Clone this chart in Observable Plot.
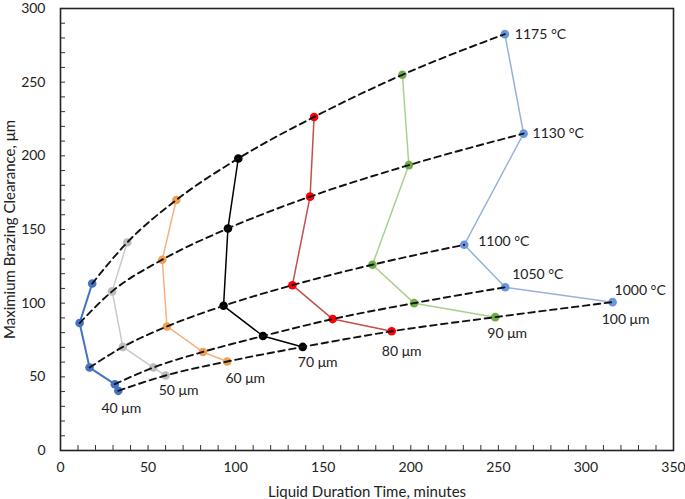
<!DOCTYPE html>
<html>
<head>
<meta charset="utf-8">
<script src="https://cdn.jsdelivr.net/npm/d3@7"></script>
<script src="https://cdn.jsdelivr.net/npm/@observablehq/plot@0.6"></script>
<style>
  html, body { margin: 0; padding: 0; background: #fff; }
  #chart { width: 685px; height: 499px; }
  #chart g[aria-label="x-axis label"] text, #chart g[aria-label="y-axis label"] text { font-size: 15px; }
</style>
</head>
<body>
<div id="chart"></div>
<script>
// ---- data ----
const clearances = ["40 μm", "50 μm", "60 μm", "70 μm", "80 μm", "90 μm", "100 μm"];
const temperatures = ["1175 °C", "1130 °C", "1100 °C", "1050 °C", "1000 °C"];
// liquid duration time (minutes), one array per clearance, in temperature order
const time40  = [18.1, 10.9, 16.6, 31.0, 33.0];
const time50  = [38.1, 29.5, 35.6, 53.0, 60.0];
const time60  = [66.1, 58.1, 60.8, 81.3, 95.2];
const time70  = [101.5, 95.6, 93.1, 115.6, 138.3];
const time80  = [144.8, 142.5, 132.4, 155.4, 189.1];
const time90  = [195.2, 198.9, 178.1, 201.9, 248.2];
const time100 = [253.7, 264.4, 230.5, 253.9, 315.2];
// maximum brazing clearance (µm)
const gap40  = [113.3, 86.5, 56.3, 45.0, 40.5];
const gap50  = [141.2, 108.0, 70.3, 56.3, 50.9];
const gap60  = [170.0, 129.5, 84.2, 66.9, 60.4];
const gap70  = [198.2, 150.7, 98.2, 77.7, 70.3];
const gap80  = [226.4, 172.3, 112.2, 89.2, 80.9];
const gap90  = [255.0, 193.7, 126.1, 100.0, 90.5];
const gap100 = [282.6, 215.1, 139.6, 110.8, 100.7];
const xTicks = [0, 50, 100, 150, 200, 250, 300, 350];
const yTicks = [0, 50, 100, 150, 200, 250, 300];

// ---- build table ----
const times = [time40, time50, time60, time70, time80, time90, time100];
const gaps = [gap40, gap50, gap60, gap70, gap80, gap90, gap100];
const rows = [];
clearances.forEach((c, i) => temperatures.forEach((t, j) =>
  rows.push({clearance: c, temp: t, time: times[i][j], gap: gaps[i][j], ci: i, tj: j})));

// ---- styles ----
const dotColors  = ["#4472C4", "#BDBDBD", "#F0A050", "#000000", "#FF0000", "#70AD47", "#6A96DC"];
const lineColors = ["#4472C4", "#C9C9C9", "#F4B183", "#000000", "#C0504D", "#A9D18E", "#98B0DC"];
const clearLabelOffset = [[3, 18], [13, 15], [18, 17], [15, 16], [10, 20], [12, 16], [13, 17]];
const tempLabelOffset = [[10, 0], [9, 0], [14, -3], [7, -13], [2, -12]];

const W = 685, H = 499;
const mL = 60, mR = 12, mT = 8, mB = 49;
const plotW = W - mL - mR, plotH = H - mT - mB;
const font = "Lato, 'Open Sans', sans-serif";

const lastPoints = rows.filter(d => d.tj === 4);
const topSeries = rows.filter(d => d.ci === 6);

const chart = Plot.plot({
  width: W, height: H,
  marginLeft: mL, marginRight: mR, marginTop: mT, marginBottom: mB,
  style: {fontFamily: font, fontSize: "14px", color: "#333", background: "#fff"},
  x: {domain: [0, 350]},
  y: {domain: [0, 300]},
  marks: [
    // minor/major inward ticks
    Plot.tickX(d3.range(0, 351, 10), {x: d => d, insetTop: plotH - 5, stroke: "#333", strokeWidth: 1}),
    Plot.tickY(d3.range(0, 301, 10), {y: d => d, insetRight: plotW - 5, stroke: "#333", strokeWidth: 1}),
    Plot.axisX({ticks: xTicks, tickSize: 0, tickPadding: 12, fontSize: 14, fill: "#222",
      label: "Liquid Duration Time, minutes", labelAnchor: "center", labelOffset: 46, labelArrow: "none"}),
    Plot.axisY({ticks: yTicks, tickSize: 0, tickPadding: 15, fontSize: 14, fill: "#222",
      label: "Maximium Brazing Clearance, μm", labelAnchor: "center", labelOffset: 56, labelArrow: "none"}),
    Plot.frame({stroke: "#222", strokeWidth: 1.6}),
    // clearance series lines
    ...clearances.map((c, i) => Plot.line(rows.filter(d => d.ci === i), {
      x: "time", y: "gap", stroke: lineColors[i], strokeWidth: i === 0 ? 2 : 1.5
    })),
    // dots
    Plot.dot(rows, {x: "time", y: "gap", r: 4.3, fill: d => dotColors[d.ci], stroke: "none"}),
    // isotherm dashed curves
    ...temperatures.map((t, j) => Plot.line(
      rows.filter(d => d.tj === j).sort((a, b) => a.time - b.time), {
        x: "time", y: "gap", stroke: "#111", strokeWidth: 1.9, strokeDasharray: "6.5,4.5", curve: "monotone-x"
      })),
    // clearance labels
    ...lastPoints.map(d => Plot.text([d], {
      x: "time", y: "gap", text: "clearance", textAnchor: "middle",
      dx: clearLabelOffset[d.ci][0], dy: clearLabelOffset[d.ci][1], fill: "#222", fontSize: 14
    })),
    // temperature labels
    ...topSeries.map(d => Plot.text([d], {
      x: "time", y: "gap", text: "temp", textAnchor: "start",
      dx: tempLabelOffset[d.tj][0], dy: tempLabelOffset[d.tj][1], fill: "#222", fontSize: 14
    }))
  ]
});
document.getElementById("chart").appendChild(chart);
</script>
</body>
</html>
